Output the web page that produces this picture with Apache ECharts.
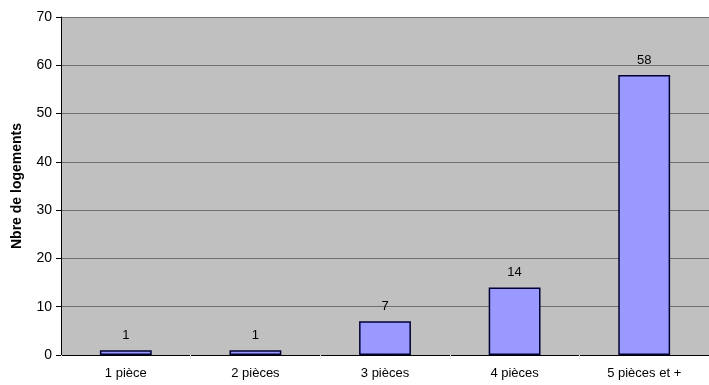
<!DOCTYPE html>
<html>
<head>
<meta charset="utf-8">
<script src="https://cdn.jsdelivr.net/npm/echarts@6/dist/echarts.min.js"></script>
<style>
  html, body { margin: 0; padding: 0; background: #ffffff; }
  #chart { width: 709px; height: 385px; }
</style>
</head>
<body>
<div id="chart"></div>
<script>
// Nombre de logements selon le nombre de pièces
const categories = ['1 pièce', '2 pièces', '3 pièces', '4 pièces', '5 pièces et +'];
const logements = [1, 1, 7, 14, 58];
const yTicks = { min: 0, max: 70, interval: 10 };

const chart = echarts.init(document.getElementById('chart'), null, { renderer: 'canvas' });
chart.setOption({
  animation: false,
  textStyle: { fontFamily: 'Arial, "Liberation Sans", sans-serif' },
  grid: {
    left: 61, right: -2, top: 17, bottom: 30,
    show: true, backgroundColor: '#c0c0c0', borderWidth: 0
  },
  xAxis: {
    type: 'category',
    data: categories,
    axisLine: { lineStyle: { color: '#000000', width: 1 } },
    axisTick: { show: true, alignWithLabel: false, length: 4, lineStyle: { color: '#e8e8e8' } },
    axisLabel: { color: '#000000', fontSize: 13, margin: 12 }
  },
  yAxis: {
    type: 'value',
    min: yTicks.min, max: yTicks.max, interval: yTicks.interval,
    name: 'Nbre de logements',
    nameLocation: 'middle',
    nameGap: 37,
    nameTextStyle: { color: '#000000', fontSize: 14, fontWeight: 'bold' },
    axisLine: { show: true, lineStyle: { color: '#000000', width: 1 } },
    axisTick: { show: true, length: 5, lineStyle: { color: '#000000' } },
    axisLabel: { color: '#000000', fontSize: 14, margin: 9 },
    splitLine: { show: true, lineStyle: { color: '#707070', width: 1 } }
  },
  series: [{
    type: 'bar',
    data: logements,
    barWidth: '40%',
    itemStyle: { color: '#9999ff', borderColor: '#000033', borderWidth: 1.5 },
    label: { show: true, position: 'top', color: '#000000', fontSize: 13, distance: 8 }
  }]
});
</script>
</body>
</html>
